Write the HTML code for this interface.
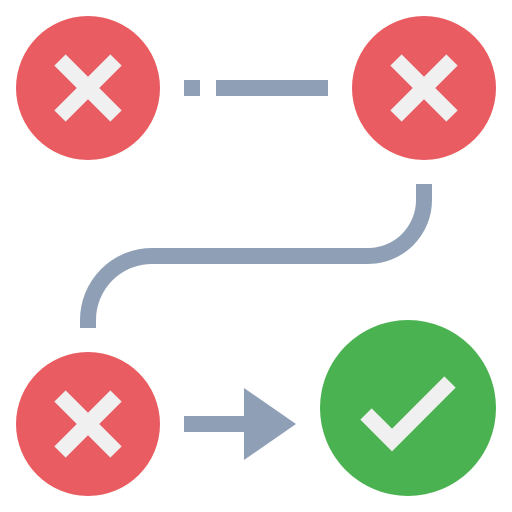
<!DOCTYPE html>
<html><head><style>html,body{margin:0;padding:0;background:#fff}svg{display:block}</style></head>
<body>
<svg width="512" height="512" viewBox="0 0 512 512" xmlns="http://www.w3.org/2000/svg">
<g fill="#e85c62">
<circle cx="88" cy="88" r="72"/>
<circle cx="424" cy="88" r="72"/>
<circle cx="88" cy="424" r="72"/>
</g>
<circle cx="408" cy="408" r="88" fill="#4ab250"/>
<g stroke="#f0f0f0" stroke-width="16" stroke-linecap="butt">
<path d="M60 60L116 116M116 60L60 116"/>
<path d="M396 60L452 116M452 60L396 116"/>
<path d="M60 396L116 452M116 396L60 452"/>
<path d="M366 414L392 440L450 382" fill="none"/>
</g>
<g fill="#8fa0b6">
<rect x="184" y="80" width="16" height="16"/>
<rect x="216" y="80" width="112" height="16"/>
<rect x="184" y="416" width="64" height="16"/>
<polygon points="244,388 244,460 296,424"/>
</g>
<path d="M424 184V200A56 56 0 0 1 368 256H152A64 64 0 0 0 88 320V328" fill="none" stroke="#8fa0b6" stroke-width="16"/>
</svg>
</body></html>
